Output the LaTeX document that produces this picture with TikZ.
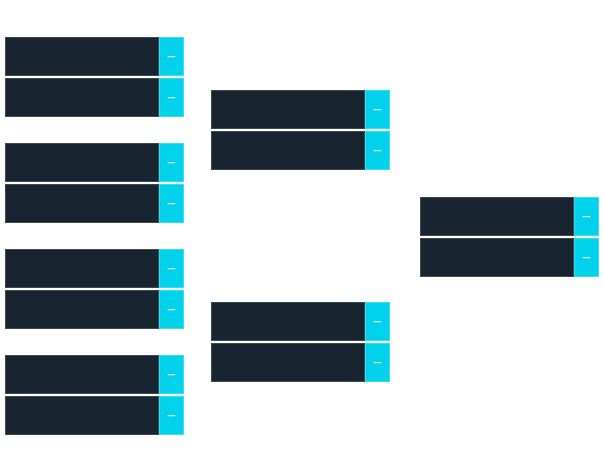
\documentclass[tikz,border=0pt]{standalone}
\usepackage{fontspec}
\setsansfont{DejaVu Sans}
\usetikzlibrary{positioning}
\definecolor{slotdark}{HTML}{182530}
\definecolor{slotedge}{HTML}{3D4852}
\definecolor{scorecyan}{HTML}{00D2EB}
\definecolor{scoreedge}{HTML}{3ADCF0}
\tikzset{
  team/.style={fill=slotdark,draw=slotedge,line width=1pt,inner sep=0pt,
    minimum width=153pt,minimum height=37.5pt,anchor=north west},
  score/.style={fill=scorecyan,draw=scoreedge,line width=1pt,inner sep=0pt,
    minimum width=24pt,minimum height=37.5pt,text=white,
    font=\sffamily\bfseries\fontsize{8.5}{10}\selectfont}
}
\newcommand{\nosc}{\raisebox{-3.5pt}[0pt][0pt]{—}}
\begin{document}
\begin{tikzpicture}[x=1pt,y=-1pt]
\useasboundingbox(0,0) rectangle (604,464);
% first round
\foreach \m/\t in {1/37,2/143,3/249,4/355}{
  \node[team] (ra\m top) at (5,\t) {};
  \node[score,right=0pt of ra\m top] (ra\m tops) {\nosc};
  \node[team] (ra\m bot) at (5,\t+41) {};
  \node[score,right=0pt of ra\m bot] (ra\m bots) {\nosc};
}
% second round
\foreach \m/\t in {1/90,2/302}{
  \node[team] (rb\m top) at (211,\t) {};
  \node[score,right=0pt of rb\m top] (rb\m tops) {\nosc};
  \node[team] (rb\m bot) at (211,\t+41) {};
  \node[score,right=0pt of rb\m bot] (rb\m bots) {\nosc};
}
% final
\node[team] (rctop) at (420,197) {};
\node[score,right=0pt of rctop] (rctops) {\nosc};
\node[team] (rcbot) at (420,238) {};
\node[score,right=0pt of rcbot] (rcbots) {\nosc};
\end{tikzpicture}
\end{document}
